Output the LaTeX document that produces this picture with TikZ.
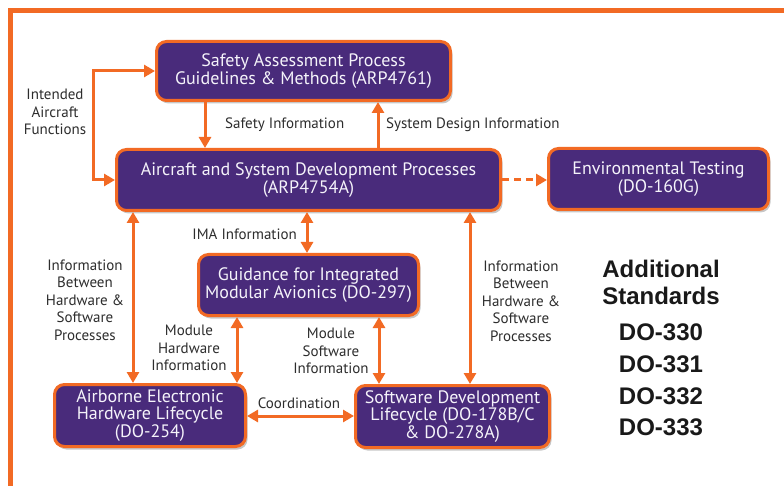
\documentclass[tikz,border=0pt]{standalone}
\usepackage{fontspec}
\setmainfont{PT Sans}
\newfontfamily\stdfont{Liberation Sans}
\usetikzlibrary{arrows.meta,shadows}
\definecolor{boxpurple}{RGB}{73,43,123}
\definecolor{frameorange}{RGB}{242,106,36}
\definecolor{labelgray}{RGB}{45,45,45}
\definecolor{boxtext}{RGB}{245,243,250}
\begin{document}
\begin{tikzpicture}[x=1pt,y=-1pt,
  box/.style={draw=frameorange, line width=3pt, fill=boxpurple, rounded corners=10pt,
    text=boxtext, font=\fontsize{18}{17.5}\selectfont, align=center, inner sep=0pt,
    drop shadow={opacity=0.22, shadow xshift=2pt, shadow yshift=-3pt, fill=black}},
  tip/.tip={Triangle[length=11pt,width=12pt]},
  arr/.style={draw=frameorange, line width=3pt, -tip},
  dbl/.style={draw=frameorange, line width=3pt, tip-tip},
  lbl/.style={text=labelgray, font=\fontsize{15}{17.5}\selectfont, align=center, inner sep=0pt},
  std/.style={text=black!90, font=\stdfont\bfseries\fontsize{24}{28}\selectfont, inner sep=0pt}
]
\useasboundingbox (0,0) rectangle (784,486);
\fill[white] (0,0) rectangle (784,486);
% frame
\draw[frameorange, line width=5pt, line join=miter] (10,492) -- (10,11) -- (790,11);

% boxes
\node[box, minimum width=294pt, minimum height=59pt] (safety) at (303.5,71)
  {Safety Assessment Process\\Guidelines \& Methods (ARP4761)};
\node[box, minimum width=384pt, minimum height=61pt] (asd) at (308.5,180)
  {Aircraft and System Development Processes\\(ARP4754A)};
\node[box, minimum width=220pt, minimum height=61pt] (env) at (658.5,179)
  {Environmental Testing\\(DO-160G)};
\node[box, minimum width=220pt, minimum height=61pt] (ima) at (308.5,285)
  {Guidance for Integrated\\Modular Avionics (DO-297)};
\node[box, minimum width=191pt, minimum height=62pt] (aeh) at (150,415.5)
  {Airborne Electronic\\Hardware Lifecycle\\(DO-254)};
\node[box, minimum width=194pt, minimum height=62pt] (sdl) at (452.5,416.5)
  {Software Development\\Lifecycle (DO-178B/C\\\& DO-278A)};

% helper coordinates
\coordinate (iaf) at (93,0);
\coordinate (xs) at (205,0);
\coordinate (xd) at (378,0);
\coordinate (xi) at (307,0);
\coordinate (xl) at (133,0);
\coordinate (xr) at (470,0);
\coordinate (xh) at (237,0);
\coordinate (xw) at (379,0);
\coordinate (yc) at (0,416);

% connectors
\draw[dbl] (safety.west) -| (iaf |- asd.west) -- (asd.west);
\draw[arr] (safety.south -| xs) -- (asd.north -| xs);
\draw[arr] (asd.north -| xd) -- (safety.south -| xd);
\draw[arr, dash pattern=on 7pt off 5pt] (asd.east) -- (env.west |- asd.east);
\draw[dbl] (asd.south -| xi) -- (ima.north -| xi);
\draw[dbl] (asd.south -| xl) -- (aeh.north -| xl);
\draw[dbl] (asd.south -| xr) -- (sdl.north -| xr);
\draw[dbl] (ima.south -| xh) -- (aeh.north -| xh);
\draw[dbl] (ima.south -| xw) -- (sdl.north -| xw);
\draw[dbl] (aeh.east |- yc) -- (sdl.west |- yc);

% labels
\node[lbl] (l1) at (55,112) {Intended\\Aircraft\\Functions};
\node[lbl, anchor=west] (l2) at (225,125) {Safety Information};
\node[lbl, anchor=west] (l3) at (386,125) {System Design Information};
\node[lbl, anchor=east] (l4) at (297,234) {IMA Information};
\node[lbl] (l5) at (85,300) {Information\\Between\\Hardware \&\\Software\\Processes};
\node[lbl] (l6) at (521,301) {Information\\Between\\Hardware \&\\Software\\Processes};
\node[lbl] (l7) at (189,348) {Module\\Hardware\\Information};
\node[lbl] (l8) at (331,351) {Module\\Software\\Information};
\node[lbl] (l9) at (299,403) {Coordination};

% additional standards
\node[std] (s1) at (661,268.5) {Additional};
\node[std] (s2) at (661,296) {Standards};
\node[std] (s3) at (661,332.5) {DO-330};
\node[std] (s4) at (661,364) {DO-331};
\node[std] (s5) at (661,396) {DO-332};
\node[std] (s6) at (661,427.5) {DO-333};
\end{tikzpicture}
\end{document}
